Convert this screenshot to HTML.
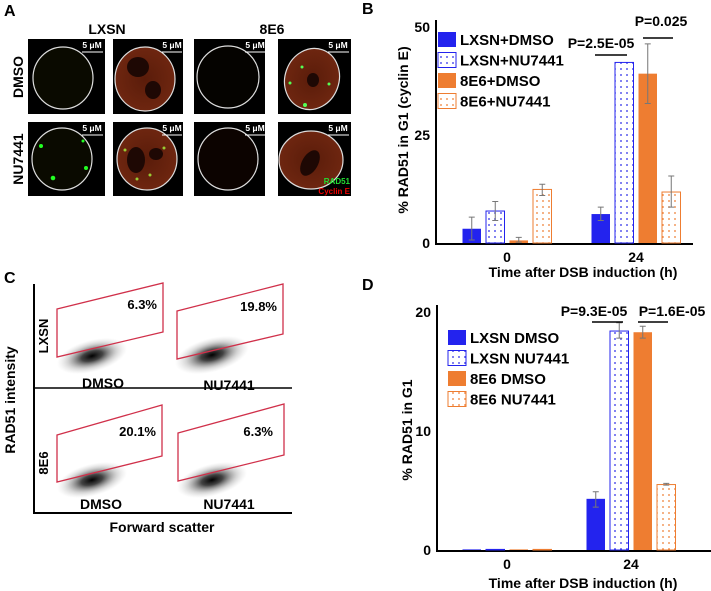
<!DOCTYPE html>
<html><head><meta charset="utf-8"><style>
body{margin:0;background:#fff;}
svg{display:block;font-family:"Liberation Sans",sans-serif;font-weight:bold;}
</style></head><body>
<svg id="fig" width="711" height="591" viewBox="0 0 711 591" xmlns="http://www.w3.org/2000/svg">
<defs>
<pattern id="dotsB" width="6" height="6" patternUnits="userSpaceOnUse"><rect width="6" height="6" fill="#fff"/><circle cx="3" cy="3" r="0.9" fill="#2a2ae8"/></pattern>
<pattern id="dotsO" width="6" height="6" patternUnits="userSpaceOnUse"><rect width="6" height="6" fill="#fff"/><circle cx="3" cy="3" r="0.9" fill="#ee7d31"/></pattern>
<radialGradient id="red1" cx="50%" cy="50%" r="50%"><stop offset="0" stop-color="#5a1c0a"/><stop offset="1" stop-color="#6e2610"/></radialGradient>
<radialGradient id="blob" cx="50%" cy="50%" r="50%"><stop offset="0" stop-color="#000" stop-opacity="1"/><stop offset="0.3" stop-color="#222" stop-opacity="0.85"/><stop offset="0.7" stop-color="#888" stop-opacity="0.35"/><stop offset="1" stop-color="#bbb" stop-opacity="0"/></radialGradient>
</defs>

<!-- Panel A -->
<g>
<text x="4" y="16" font-size="16">A</text>
<text x="107" y="34" font-size="14" text-anchor="middle">LXSN</text>
<text x="272" y="34" font-size="14" text-anchor="middle">8E6</text>
<text transform="translate(23,77) rotate(-90)" font-size="14" text-anchor="middle">DMSO</text>
<text transform="translate(23,159) rotate(-90)" font-size="14" text-anchor="middle">NU7441</text>
<g><rect x="28" y="39" width="77" height="75" fill="#000"/><ellipse cx="63" cy="78" rx="30" ry="31" fill="#0a0a00" stroke="#ddd" stroke-width="1.2"/></g>
<g><rect x="113" y="39" width="70" height="75" fill="#000"/><ellipse cx="145" cy="79" rx="30" ry="32" fill="url(#red1)" stroke="#ddd" stroke-width="1.2"/><ellipse cx="138" cy="67" rx="11" ry="10" fill="#1e0804"/><ellipse cx="153" cy="90" rx="8" ry="9" fill="#1e0804"/></g>
<g><rect x="194" y="39" width="71" height="75" fill="#000"/><ellipse cx="228" cy="77" rx="31" ry="31" fill="#050300" stroke="#ddd" stroke-width="1.2"/></g>
<g><rect x="278" y="39" width="73" height="75" fill="#000"/><ellipse cx="312" cy="79" rx="27" ry="31" fill="url(#red1)" stroke="#ddd" stroke-width="1.2" transform="rotate(20 312 79)"/><ellipse cx="313" cy="80" rx="6" ry="7" fill="#1e0804"/><circle cx="305" cy="105" r="2" fill="#5f5"/><circle cx="290" cy="83" r="1.5" fill="#5f5"/><circle cx="329" cy="84" r="1.5" fill="#5f5"/><circle cx="302" cy="67" r="1.5" fill="#5f5"/></g>
<g><rect x="28" y="122" width="77" height="74" fill="#000"/><ellipse cx="62" cy="159" rx="30" ry="31" fill="#0a0a00" stroke="#ddd" stroke-width="1.2"/><circle cx="41" cy="146" r="2" fill="#2f2"/><circle cx="53" cy="178" r="2.3" fill="#2f2"/><circle cx="86" cy="168" r="2" fill="#2f2"/><circle cx="83" cy="141" r="1.5" fill="#2f2"/></g>
<g><rect x="113" y="122" width="70" height="74" fill="#000"/><ellipse cx="147" cy="159" rx="30" ry="31" fill="url(#red1)" stroke="#ddd" stroke-width="1.2"/><ellipse cx="136" cy="160" rx="9" ry="13" fill="#1e0804"/><ellipse cx="156" cy="154" rx="7" ry="6" fill="#1e0804"/><circle cx="125" cy="150" r="1.5" fill="#9c3"/><circle cx="164" cy="148" r="1.5" fill="#9c3"/><circle cx="150" cy="175" r="1.5" fill="#9c3"/><circle cx="137" cy="179" r="1.5" fill="#9c3"/></g>
<g><rect x="194" y="122" width="71" height="74" fill="#000"/><ellipse cx="228" cy="159" rx="30" ry="31" fill="#0c0300" stroke="#ddd" stroke-width="1.2"/></g>
<g><rect x="278" y="122" width="73" height="74" fill="#000"/><ellipse cx="311" cy="160" rx="32" ry="29" fill="url(#red1)" stroke="#ddd" stroke-width="1.2"/><ellipse cx="310" cy="163" rx="8" ry="14" fill="#1e0804" transform="rotate(30 310 163)"/>
<text x="350" y="184" font-size="8" fill="#2d3" text-anchor="end">RAD51</text>
<text x="350" y="194" font-size="8" fill="#e00" text-anchor="end">Cyclin E</text></g>
<g fill="#fff" font-size="8.5">
<text x="92" y="48" text-anchor="middle">5 μM</text><line x1="82" y1="52" x2="103" y2="52" stroke="#fff"/>
<text x="172" y="48" text-anchor="middle">5 μM</text><line x1="162" y1="52" x2="182" y2="52" stroke="#fff"/>
<text x="255" y="48" text-anchor="middle">5 μM</text><line x1="245" y1="52" x2="265" y2="52" stroke="#fff"/>
<text x="338" y="48" text-anchor="middle">5 μM</text><line x1="328" y1="52" x2="349" y2="52" stroke="#fff"/>
<text x="92" y="131" text-anchor="middle">5 μM</text><line x1="82" y1="135" x2="103" y2="135" stroke="#fff"/>
<text x="172" y="131" text-anchor="middle">5 μM</text><line x1="162" y1="135" x2="182" y2="135" stroke="#fff"/>
<text x="255" y="131" text-anchor="middle">5 μM</text><line x1="245" y1="135" x2="265" y2="135" stroke="#fff"/>
<text x="338" y="131" text-anchor="middle">5 μM</text><line x1="328" y1="135" x2="349" y2="135" stroke="#fff"/>
</g>
</g>

<!-- Panel C -->
<g>
<text x="4" y="283" font-size="16">C</text>
<line x1="34" y1="284" x2="34" y2="513" stroke="#000" stroke-width="2"/>
<line x1="33" y1="513" x2="292" y2="513" stroke="#000" stroke-width="2"/>
<line x1="34" y1="388" x2="292" y2="388" stroke="#000" stroke-width="1.5"/>
<text transform="translate(15,400) rotate(-90)" font-size="14" text-anchor="middle">RAD51 intensity</text>
<text x="162" y="532" font-size="14" text-anchor="middle">Forward scatter</text>
<text transform="translate(48,336) rotate(-90)" font-size="13" text-anchor="middle">LXSN</text>
<text transform="translate(48,463) rotate(-90)" font-size="13" text-anchor="middle">8E6</text>
<g>
<ellipse cx="92" cy="356" rx="36" ry="16" fill="url(#blob)" transform="rotate(-15 92 356)"/>
<ellipse cx="212" cy="355" rx="38" ry="17" fill="url(#blob)" transform="rotate(-15 212 355)"/>
<ellipse cx="92" cy="480" rx="36" ry="16" fill="url(#blob)" transform="rotate(-15 92 480)"/>
<ellipse cx="212" cy="480" rx="36" ry="16" fill="url(#blob)" transform="rotate(-15 212 480)"/>
</g>
<g fill="none" stroke="#d0304a" stroke-width="1.3">
<polygon points="57,309 163,283 163,332 57,357"/>
<polygon points="177,311 283,284 283,334 177,359"/>
<polygon points="57,435 162,405 162,456 57,482"/>
<polygon points="178,433 284,404 284,455 178,481"/>
</g>
<g font-size="13">
<text x="157" y="309" text-anchor="end">6.3%</text>
<text x="277" y="311" text-anchor="end">19.8%</text>
<text x="156" y="436" text-anchor="end">20.1%</text>
<text x="273" y="436" text-anchor="end">6.3%</text>
</g>
<g font-size="14" text-anchor="middle">
<text x="103" y="388">DMSO</text><text x="229" y="390">NU7441</text>
<text x="101" y="509">DMSO</text><text x="229" y="509">NU7441</text>
</g>
</g>

<g id="panelB"></g>
<g id="panelD"></g>
</svg>
<script>
// Panel B data
const groupsB = ["0", "24"];
const seriesNamesB = ["LXSN+DMSO", "LXSN+NU7441", "8E6+DMSO", "8E6+NU7441"];
const valuesB0 = [3.3, 7.4, 0.6, 12.4];
const valuesB24 = [6.7, 41.8, 39.2, 11.8];
const errLoB0 = [0.7, 5.2, 0.2, 11.0];
const errHiB0 = [6.0, 9.6, 1.3, 13.6];
const errLoB24 = [5.2, null, 32.3, 8.3];
const errHiB24 = [8.3, null, 46.1, 15.5];
const ticksB = [0, 25, 50];
// Panel D data
const groupsD = ["0", "24"];
const seriesNamesD = ["LXSN DMSO", "LXSN NU7441", "8E6 DMSO", "8E6 NU7441"];
const valuesD0 = [0.05, 0.05, 0.05, 0.05];
const valuesD24 = [4.3, 18.4, 18.3, 5.5];
const errLoD24 = [3.6, 17.8, 17.8, 5.45];
const errHiD24 = [4.9, 19.1, 18.8, 5.6];
const ticksD = [0, 10, 20];

const NS = "http://www.w3.org/2000/svg";
function mk(parent, tag, attrs, text) {
  const e = document.createElementNS(NS, tag);
  for (const k in attrs) e.setAttribute(k, attrs[k]);
  if (text !== undefined) e.textContent = text;
  parent.appendChild(e);
  return e;
}
const fills = ["#2323ee", "url(#dotsB)", "#ee7d31", "url(#dotsO)"];
const strokes = ["#2323ee", "#2323ee", "#ee7d31", "#ee7d31"];

function drawChart(g, cfg) {
  const y = v => cfg.y0 - (v - 0) * (cfg.y0 - cfg.yTop) / cfg.yMax;
  const ax = mk(g, "line", {x1: cfg.axX, y1: cfg.axTop, x2: cfg.axX, y2: cfg.y0 + 1, stroke: "#000", "stroke-width": 2});
  
  
  const bx = mk(g, "line", {x1: cfg.axX - 1, y1: cfg.y0 + 1, x2: cfg.axRight, y2: cfg.y0 + 1, stroke: "#000", "stroke-width": 2});
  
  
  cfg.ticks.forEach(t => {
    const tl = mk(g, "text", {x: cfg.axX - 6, y: y(t) + 5, "font-size": 14, "text-anchor": "end"}, String(t));
    
    
  });
  const yt = mk(g, "text", {transform: `translate(${cfg.yTitleX},${cfg.yTitleY}) rotate(-90)`, "font-size": 14, "text-anchor": "middle"}, cfg.yTitle);
  
  
  const xt = mk(g, "text", {x: 583, y: cfg.xTitleY, "font-size": 14, "text-anchor": "middle"}, "Time after DSB induction (h)");
  
  
  cfg.groups.forEach((gName, gi) => {
    const cx = cfg.groupX[gi];
    const gl = mk(g, "text", {x: cx, y: cfg.y0 + 19, "font-size": 14, "text-anchor": "middle"}, gName);
    
    
    const vals = cfg.values[gi];
    vals.forEach((v, si) => {
      const x = cx - 2 * cfg.step + si * cfg.step + (cfg.step - cfg.bw) / 2;
      const top = y(v);
      const r = mk(g, "rect", {x: x, y: top, width: cfg.bw, height: Math.max(cfg.y0 - top, 0.5), fill: fills[si], stroke: strokes[si], "stroke-width": si % 2 ? 1 : 0});
      
      
      const lo = cfg.errLo[gi] ? cfg.errLo[gi][si] : null;
      const hi = cfg.errHi[gi] ? cfg.errHi[gi][si] : null;
      if (lo != null && hi != null) {
        const ex = x + cfg.bw / 2;
        const eb = mk(g, "path", {d: `M${ex},${y(hi)}V${y(lo)}M${ex-3},${y(hi)}H${ex+3}M${ex-3},${y(lo)}H${ex+3}`, stroke: "#777", "stroke-width": 1, fill: "none"});
        
        
      }
    });
  });
  cfg.series.forEach((s, si) => {
    const ly = cfg.legY + si * 20.5;
    const sw = mk(g, "rect", {x: cfg.legX, y: ly - 7, width: 18, height: 15, fill: fills[si], stroke: strokes[si], "stroke-width": si % 2 ? 1 : 0});
    
    
    const lt = mk(g, "text", {x: cfg.legX + 22, y: ly + 6, "font-size": 15}, s);
    
    
  });
  cfg.pvals.forEach(p => {
    const pl = mk(g, "line", {x1: p.x1, y1: p.ly, x2: p.x2, y2: p.ly, stroke: "#000", "stroke-width": 1.5});
    
    
    const pt = mk(g, "text", {x: p.tx, y: p.ty, "font-size": 14, "text-anchor": "middle"}, p.t);
    
    
  });
}

const gB = document.getElementById("panelB");
mk(gB, "text", {x: 362, y: 14, "font-size": 16}, "B");
drawChart(gB, {
  y0: 243, yTop: 27, yMax: 50, axX: 436, axTop: 20, axRight: 693, ticks: ticksB,
  yTitle: "% RAD51 in G1 (cyclin E)", yTitleX: 408, yTitleY: 130, xTitleY: 277,
  groups: groupsB, groupX: [507, 636], step: 23.5, bw: 18.5,
  values: [valuesB0, valuesB24], errLo: [errLoB0, errLoB24], errHi: [errHiB0, errHiB24],
  series: seriesNamesB, legX: 438, legY: 39,
  pvals: [{x1: 595, x2: 627, ly: 55, tx: 601, ty: 48, t: "P=2.5E-05"},
          {x1: 643, x2: 673, ly: 38, tx: 661, ty: 26, t: "P=0.025"}]
});
const gD = document.getElementById("panelD");
mk(gD, "text", {x: 362, y: 290, "font-size": 16}, "D");
drawChart(gD, {
  y0: 550, yTop: 312, yMax: 20, axX: 437, axTop: 305, axRight: 711, ticks: ticksD,
  yTitle: "% RAD51 in G1", yTitleX: 412, yTitleY: 430, xTitleY: 588,
  groups: groupsD, groupX: [507, 631], step: 23.5, bw: 18.5,
  values: [valuesD0, valuesD24], errLo: [null, errLoD24], errHi: [null, errHiD24],
  series: seriesNamesD, legX: 448, legY: 337,
  pvals: [{x1: 592, x2: 623, ly: 322, tx: 594, ty: 316, t: "P=9.3E-05"},
          {x1: 638, x2: 668, ly: 322, tx: 672, ty: 316, t: "P=1.6E-05"}]
});
</script>
</body></html>
